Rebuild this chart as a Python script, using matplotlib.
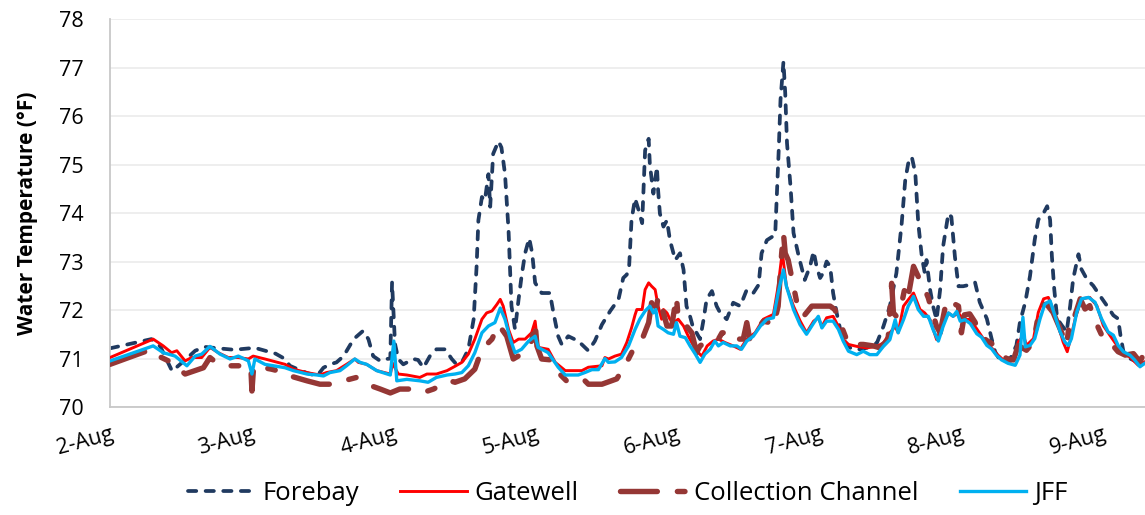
import matplotlib
matplotlib.use("Agg")
import matplotlib.pyplot as plt

# Hours since 2-Aug 00:00 and water temperature (deg F) for each sensor.
forebay_hours = [0, 7.0, 8.5, 10.5, 12.7, 14.4, 16.0, 18.3, 21.0, 24.5, 28.0, 29.6, 30.4,
                 33.3, 35.0, 36.1, 37.2, 38.3, 39.5, 41.2, 42.8, 43.7, 44.5, 45.7, 46.8,
                 47.4, 47.7, 48.2, 48.75, 49.6, 51.3, 52.1, 53.0, 54.1, 55.2, 56.7, 57.8,
                 58.6, 59.5, 60.6, 61.5, 62.0, 62.3, 62.9, 63.4, 64.0, 64.3, 64.8, 65.7,
                 66.2, 66.8, 67.4, 67.9, 68.5, 69.1, 69.6, 70.2, 70.9, 71.4, 71.9, 73.0,
                 74.4, 75.0, 75.8, 76.4, 77.5, 79.2, 80.9, 82.0, 83.2, 84.6, 86.0, 86.8,
                 87.4, 87.8, 88.2, 88.8, 89.4, 90.0, 90.5, 91.1, 91.3, 91.9, 92.5, 92.7,
                 93.0, 93.6, 94.2, 94.7, 95.6, 96.4, 97.0, 97.5, 98.1, 98.7, 99.2, 99.8,
                 100.4, 100.9, 101.8, 102.6, 103.2, 104.3, 105.4, 106.6, 107.7, 108.8,
                 109.7, 110.2, 111.1, 112.5, 113.1, 113.4, 113.7, 113.9, 114.2, 114.5,
                 115.1, 115.6, 116.5, 117.5, 118.4, 119.0, 119.5, 120.1, 120.6, 121.2,
                 121.8, 122.3, 122.9, 123.5, 124.0, 125.2, 126.3, 128.0, 129.7, 130.8,
                 131.9, 133.0, 133.9, 134.5, 135.0, 135.6, 136.2, 136.7, 137.3, 137.8,
                 138.1, 138.7, 139.2, 139.8, 140.4, 140.9, 141.8, 142.3, 142.9, 143.5,
                 144.3, 145.4, 146.3, 147.1, 148.3, 149.1, 149.7, 150.5, 152.0, 153.3,
                 153.9, 154.8, 155.6, 156.4, 157.0, 157.9, 158.5, 159.0, 159.3, 159.7,
                 160.2, 161.0, 161.8, 162.4, 162.9, 163.8, 164.3, 165.2, 166.3, 167.4,
                 168.6, 169.7, 170.5, 170.9, 171.4, 172.5, 174.2, 175.0]
forebay_temp = [71.21, 71.40, 71.25, 70.74, 70.97, 71.16, 71.24, 71.21, 71.18, 71.22, 71.10,
                70.99, 70.85, 70.70, 70.64, 70.81, 70.88, 70.92, 71.05, 71.40, 71.57, 71.40,
                71.05, 70.95, 70.99, 71.00, 72.57, 71.30, 70.99, 70.88, 70.99, 70.97, 70.81,
                71.05, 71.19, 71.19, 70.99, 70.88, 70.92, 71.19, 71.81, 72.90, 73.85, 74.33,
                74.26, 74.80, 74.13, 75.22, 75.48, 75.35, 74.81, 73.65, 72.08, 71.60, 72.22,
                72.69, 73.17, 73.48, 73.17, 72.56, 72.35, 72.35, 71.94, 71.46, 71.29, 71.46,
                71.36, 71.16, 71.36, 71.70, 71.98, 72.22, 72.66, 72.73, 72.90, 73.85, 74.30,
                74.06, 73.79, 75.29, 75.53, 75.01, 74.40, 74.95, 74.47, 73.99, 73.72, 73.85,
                73.44, 73.03, 73.17, 72.83, 72.08, 71.87, 71.60, 71.53, 71.40, 71.81, 72.22,
                72.39, 72.08, 71.94, 71.81, 72.15, 72.08, 72.42, 72.35, 72.52, 73.17, 73.44,
                73.55, 75.30, 76.33, 76.81, 77.12, 76.47, 75.44, 74.54, 73.59, 73.10, 72.62,
                72.90, 73.21, 72.90, 72.66, 72.76, 73.00, 72.90, 72.35, 71.94, 71.60, 71.39,
                71.22, 71.18, 71.22, 71.32, 71.66, 72.08, 72.76, 73.79, 74.68, 75.02, 75.16,
                74.82, 73.79, 73.10, 72.76, 73.03, 72.42, 72.08, 71.80, 72.42, 73.31, 73.99,
                73.92, 73.10, 72.49, 72.49, 72.52, 72.57, 72.16, 71.82, 71.41, 71.14, 70.97,
                70.93, 71.27, 71.75, 72.16, 72.70, 73.45, 73.86, 74.00, 74.14, 73.86, 73.11,
                72.43, 71.82, 71.68, 71.55, 72.09, 72.64, 73.15, 72.84, 72.64, 72.50, 72.30,
                72.09, 71.89, 71.82, 71.48, 71.14, 71.00, 70.90, 70.90]

gatewell_hours = [0, 7.3, 9.0, 10.4, 11.3, 12.7, 13.8, 15.5, 16.9, 18.3, 20.0, 21.7, 23.4,
                  24.2, 26.2, 29.6, 31.0, 33.3, 35.5, 36.6, 38.3, 40.0, 41.4, 42.0, 43.4,
                  45.1, 47.4, 47.8, 48.75, 50.2, 52.4, 53.6, 55.2, 57.0, 58.35, 59.5, 60.6,
                  61.7, 62.9, 63.7, 64.6, 65.4, 66.0, 66.5, 67.4, 68.2, 69.1, 70.2, 71.3,
                  71.9, 72.4, 74.1, 75.3, 77.0, 79.8, 80.9, 83.2, 83.7, 84.3, 85.4, 86.5,
                  87.4, 88.2, 88.8, 89.1, 90.0, 90.5, 91.1, 91.6, 92.2, 92.7, 93.3, 93.6,
                  94.2, 94.7, 95.3, 96.1, 97.0, 97.8, 98.7, 99.5, 100.1, 101.0, 102.0,
                  102.9, 104.0, 105.4, 106.6, 107.7, 109.1, 110.5, 112.2, 113.0, 113.7,
                  114.4, 115.6, 116.7, 117.8, 119.0, 119.8, 120.4, 121.2, 122.3, 123.2,
                  124.0, 124.9, 126.3, 128.0, 129.7, 130.8, 131.9, 132.8, 133.3, 134.2,
                  135.0, 135.9, 137.0, 137.8, 138.7, 139.8, 140.7, 141.8, 142.6, 143.5,
                  144.3, 145.4, 146.6, 147.7, 148.8, 149.9, 151.1, 152.2, 153.1, 153.6,
                  154.5, 155.0, 156.2, 157.0, 157.9, 158.7, 159.5, 160.4, 161.2, 161.9,
                  162.6, 163.5, 164.3, 165.7, 166.9, 168.0, 169.1, 170.3, 171.4, 172.5,
                  173.9, 175.0]
gatewell_temp = [71.02, 71.40, 71.26, 71.12, 71.16, 70.95, 71.02, 71.02, 71.23, 71.12, 71.02,
                 71.02, 70.99, 71.05, 70.99, 70.88, 70.78, 70.71, 70.66, 70.71, 70.75, 70.88,
                 70.99, 70.92, 70.88, 70.75, 70.68, 70.90, 70.68, 70.66, 70.61, 70.68, 70.68,
                 70.75, 70.84, 70.92, 71.09, 71.40, 71.81, 71.94, 71.98, 72.11, 72.22, 72.08,
                 71.60, 71.33, 71.40, 71.40, 71.53, 71.77, 71.23, 71.19, 70.92, 70.75, 70.75,
                 70.82, 70.85, 71.02, 70.99, 71.05, 71.09, 71.33, 71.63, 71.90, 72.01, 72.01,
                 72.42, 72.56, 72.49, 72.42, 72.08, 71.81, 72.01, 71.94, 71.81, 71.74, 71.81,
                 71.67, 71.46, 71.26, 71.12, 71.05, 71.26, 71.36, 71.40, 71.33, 71.26, 71.19,
                 71.40, 71.53, 71.81, 71.91, 72.49, 73.20, 72.49, 72.08, 71.78, 71.53, 71.77,
                 71.84, 71.66, 71.84, 71.87, 71.66, 71.39, 71.29, 71.25, 71.22, 71.25, 71.32,
                 71.53, 71.66, 71.53, 72.08, 72.21, 72.35, 72.01, 71.94, 71.80, 71.39, 71.66,
                 71.94, 71.87, 71.94, 71.80, 71.81, 71.61, 71.41, 71.27, 71.10, 70.97, 70.93,
                 71.00, 71.34, 71.48, 71.27, 71.41, 71.95, 72.23, 72.26, 72.02, 71.68, 71.34,
                 71.14, 71.48, 71.95, 72.23, 72.26, 72.09, 71.68, 71.48, 71.27, 71.10, 71.03,
                 70.86, 70.93]

collection_hours = [0, 7.0, 8.2, 10.4, 12.7, 15.8, 16.9, 18.3, 20.3, 23.8, 24.0, 24.3, 27.3,
                    29.6, 29.9, 33.3, 35.5, 37.2, 38.9, 41.7, 43.4, 45.7, 47.4, 49.0, 51.3,
                    53.0, 54.7, 57.5, 58.35, 60.0, 61.7, 62.9, 64.6, 65.7, 67.1, 68.2, 69.6,
                    71.3, 71.9, 72.2, 73.0, 74.7, 75.8, 77.2, 80.0, 80.9, 83.2, 85.7, 87.1,
                    88.8, 90.2, 91.1, 91.6, 92.2, 92.7, 93.6, 94.2, 95.0, 95.8, 96.1, 97.5,
                    98.4, 99.2, 99.8, 101.5, 102.9, 103.5, 104.3, 104.9, 107.1, 107.7, 108.2,
                    110.5, 111.6, 112.2, 113.0, 113.6, 113.9, 114.2, 114.7, 115.6, 116.4,
                    117.3, 118.7, 121.8, 122.6, 123.5, 124.9, 126.3, 127.4, 129.1, 130.2,
                    131.6, 132.2, 132.5, 133.0, 133.9, 134.5, 135.0, 135.9, 136.7, 137.6,
                    138.4, 139.8, 140.4, 141.5, 142.6, 143.5, 144.0, 144.5, 145.4, 146.3,
                    147.1, 148.3, 149.1, 150.2, 151.6, 152.8, 153.6, 155.0, 156.2, 157.3,
                    158.4, 159.5, 160.7, 161.8, 162.4, 163.2, 164.1, 164.9, 165.7, 166.6,
                    168.0, 169.1, 170.5, 171.7, 173.1, 174.2, 175.0]
collection_temp = [70.88, 71.19, 71.05, 70.92, 70.68, 70.81, 71.02, 70.88, 70.85, 70.85, 70.33,
                   70.85, 70.78, 70.71, 70.66, 70.54, 70.47, 70.47, 70.52, 70.61, 70.47, 70.37,
                   70.29, 70.37, 70.37, 70.30, 70.37, 70.54, 70.51, 70.58, 70.78, 71.19, 71.40,
                   71.70, 71.46, 70.99, 71.09, 71.36, 71.74, 71.26, 70.99, 70.97, 70.71, 70.54,
                   70.58, 70.47, 70.47, 70.58, 70.85, 71.26, 71.46, 71.74, 72.15, 71.87, 72.28,
                   71.94, 71.67, 71.67, 72.28, 71.81, 71.67, 71.53, 71.12, 71.26, 71.40, 71.40,
                   71.53, 71.53, 71.40, 71.40, 71.74, 71.40, 71.77, 71.74, 71.67, 72.08, 73.17,
                   73.58, 73.17, 73.03, 72.49, 72.01, 71.87, 72.08, 72.08, 72.01, 71.73, 71.29,
                   71.29, 71.29, 71.26, 71.22, 71.39, 72.55, 71.94, 71.87, 72.14, 72.49, 72.28,
                   72.90, 72.69, 72.49, 72.25, 71.66, 71.53, 72.21, 72.14, 72.08, 71.53, 71.90,
                   71.92, 71.75, 71.48, 71.37, 71.31, 71.20, 71.00, 70.97, 71.27, 71.17, 71.34,
                   72.09, 72.12, 71.95, 71.61, 71.27, 71.89, 71.89, 72.23, 72.02, 72.09, 71.78,
                   71.41, 71.34, 71.14, 71.07, 71.10, 70.93, 71.14]

jff_hours = [0, 7.3, 9.0, 11.0, 13.0, 14.4, 15.5, 16.9, 18.6, 20.3, 21.7, 23.4, 24.0, 24.5,
             26.2, 29.6, 31.0, 33.3, 35.0, 36.1, 37.2, 38.9, 40.0, 41.4, 42.3, 43.4, 45.1,
             47.4, 48.0, 48.5, 50.2, 52.4, 53.8, 55.2, 57.0, 58.35, 59.5, 60.6, 61.7, 62.9,
             64.0, 65.1, 66.0, 66.8, 67.7, 68.5, 69.6, 70.8, 71.9, 72.4, 74.1, 75.8, 77.0,
             79.2, 80.3, 81.5, 82.6, 83.7, 84.3, 85.4, 86.5, 87.7, 88.8, 89.6, 90.5, 91.3,
             91.9, 92.3, 92.7, 93.6, 94.4, 95.3, 95.8, 96.4, 97.3, 98.1, 99.0, 99.8, 100.6,
             101.5, 102.3, 102.9, 103.7, 104.9, 106.0, 106.8, 107.7, 108.8, 110.0, 111.1,
             112.2, 113.0, 113.9, 114.4, 115.6, 116.7, 117.8, 119.0, 119.8, 120.4, 121.2,
             122.3, 123.2, 124.0, 124.9, 126.3, 127.4, 128.5, 129.7, 130.8, 131.9, 132.8,
             133.3, 134.2, 135.0, 135.9, 136.7, 137.6, 138.4, 139.2, 140.1, 140.9, 141.8,
             142.6, 143.2, 143.8, 144.6, 145.5, 146.6, 147.4, 148.3, 149.1, 149.9, 150.8,
             151.9, 153.1, 153.9, 154.4, 154.8, 155.6, 156.4, 157.3, 158.1, 159.0, 159.8,
             160.7, 161.5, 162.1, 162.6, 163.5, 164.3, 165.5, 166.6, 167.7, 168.8, 169.7,
             170.5, 171.4, 172.5, 173.3, 174.2, 175.0]
jff_temp = [70.95, 71.26, 71.12, 71.05, 70.85, 71.05, 71.09, 71.25, 71.09, 70.99, 71.05, 70.95,
            70.68, 70.99, 70.88, 70.81, 70.75, 70.68, 70.66, 70.64, 70.71, 70.75, 70.85, 70.99,
            70.92, 70.88, 70.75, 70.66, 71.36, 70.54, 70.57, 70.54, 70.51, 70.61, 70.66, 70.68,
            70.71, 70.85, 71.12, 71.53, 71.67, 71.74, 72.04, 71.81, 71.40, 71.12, 71.19, 71.36,
            71.46, 71.23, 71.12, 70.82, 70.66, 70.66, 70.71, 70.77, 70.77, 71.00, 70.92, 70.93,
            71.02, 71.26, 71.60, 71.81, 71.98, 72.08, 71.94, 72.01, 71.67, 71.60, 71.53, 71.50,
            71.74, 71.46, 71.43, 71.26, 71.09, 70.92, 71.09, 71.19, 71.36, 71.26, 71.33, 71.26,
            71.26, 71.19, 71.36, 71.46, 71.67, 71.81, 71.84, 72.35, 72.83, 72.49, 72.01, 71.70,
            71.50, 71.73, 71.87, 71.63, 71.77, 71.77, 71.60, 71.36, 71.15, 71.08, 71.15, 71.08,
            71.08, 71.25, 71.39, 71.80, 71.53, 71.80, 72.08, 72.28, 72.01, 71.87, 71.87, 71.60,
            71.36, 71.66, 71.94, 71.87, 71.97, 71.77, 71.80, 71.72, 71.51, 71.44, 71.27, 71.20,
            71.07, 70.97, 70.90, 70.86, 71.07, 71.85, 71.24, 71.27, 71.41, 71.82, 72.12, 72.19,
            71.89, 71.55, 71.34, 71.27, 71.41, 71.95, 72.23, 72.26, 72.16, 71.82, 71.55, 71.48,
            71.27, 71.14, 71.07, 70.97, 70.83, 70.90]

day_labels = ["2-Aug", "3-Aug", "4-Aug", "5-Aug", "6-Aug", "7-Aug", "8-Aug", "9-Aug"]


def plot_temperatures() -> None:
    """
    Line chart of the four water temperature records, Excel style:
    light grid, no tick marks, legend in one row under the axes.
    """
    plt.rcParams["font.family"] = ["Open Sans", "DejaVu Sans"]
    fig = plt.figure(figsize=(11.45, 5.15), dpi=100)
    ax = fig.add_axes([0.0961, 0.2097, 0.9039, 0.7534])

    ax.plot(forebay_hours, forebay_temp, color="#203A60", lw=2.7,
            dashes=(2.2, 2.5), dash_capstyle="round", label="Forebay", zorder=2)
    ax.plot(gatewell_hours, gatewell_temp, color="#FF0000", lw=2.1,
            label="Gatewell", zorder=3)
    ax.plot(collection_hours, collection_temp, color="#953735", lw=3.9,
            dashes=(6.8, 3.7, 1.4, 3.7), dash_capstyle="round",
            label="Collection Channel", zorder=4)
    ax.plot(jff_hours, jff_temp, color="#00B0F0", lw=2.4, label="JFF", zorder=5)

    ax.set_xlim(0, 175.05)
    ax.set_ylim(70, 78)
    ax.set_yticks(range(70, 79))
    ax.set_xticks([24 * i for i in range(len(day_labels))])
    ax.set_xticklabels(day_labels, rotation=15, ha="right", rotation_mode="anchor")
    ax.tick_params(axis="y", length=0, pad=19, labelsize=15.5)
    ax.tick_params(axis="x", length=0, pad=12, labelsize=15.5)
    ax.set_ylabel("Water Temperature (°F)", fontsize=15, fontweight="bold", labelpad=15)

    ax.grid(axis="y", color="#EDEDED", lw=1.3)
    ax.set_axisbelow(True)
    for side in ["top", "right"]:
        ax.spines[side].set_visible(False)
    for side in ["left", "bottom"]:
        ax.spines[side].set_color("#C8C8C8")
        ax.spines[side].set_linewidth(1.3)

    ax.legend(loc="center", bbox_to_anchor=(0.5, -0.222), ncol=4, frameon=False,
              fontsize=18.5, handlelength=2.6, handletextpad=0.3, columnspacing=1.6,
              borderaxespad=0)

    fig.savefig("out.png", dpi=100)
    plt.close(fig)


def main() -> None:
    plot_temperatures()


if __name__ == "__main__":
    main()
